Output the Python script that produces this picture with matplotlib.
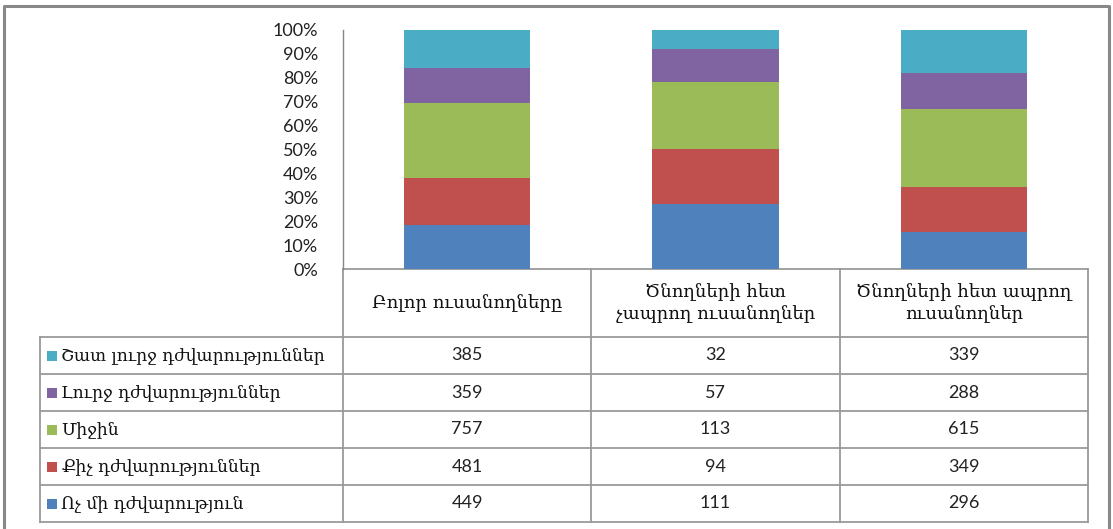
import numpy as np
import matplotlib
matplotlib.use("Agg")
import matplotlib.pyplot as plt
import matplotlib.transforms as mtransforms

# columns of the data table / bar categories
groups = ["Բոլոր ուսանողները",
          "Ծնողների հետ\nչապրող ուսանողներ",
          "Ծնողների հետ ապրող\nուսանողներ"]

# series, bottom of the stack first
series = ["Ոչ մի դժվարություն",
          "Քիչ դժվարություններ",
          "Միջին",
          "Լուրջ դժվարություններ",
          "Շատ լուրջ դժվարություններ"]
no_difficulty = [449, 111, 296]
few_difficulties = [481, 94, 349]
medium = [757, 113, 615]
serious = [359, 57, 288]
very_serious = [385, 32, 339]
colors = ["#4F81BD", "#C0504D", "#9BBB59", "#8064A2", "#4BACC6"]

yticks = [0, 10, 20, 30, 40, 50, 60, 70, 80, 90, 100]

counts = np.array([no_difficulty, few_difficulties, medium, serious, very_serious], dtype=float)
pct = counts / counts.sum(axis=0) * 100

W, H = 1113, 529
fig = plt.figure(figsize=(W / 100, H / 100), dpi=100)
fig.patch.set_facecolor("white")

# overlay in pixel coords for the frame and table grid
ov = fig.add_axes([0, 0, 1, 1])
ov.set_xlim(0, W)
ov.set_ylim(H, 0)
ov.axis("off")

# chart frame
ov.plot([4, 4, 1109, 1109], [540, 6, 6, 540], color="#888888", lw=2.2, solid_capstyle="butt")

# bar axes
x0, x1, y_top, y_zero = 343, 1088, 30, 269
ax = fig.add_axes([x0 / W, (H - y_zero) / H, (x1 - x0) / W, (y_zero - y_top) / H])
ax.set_xlim(-0.5, len(groups) - 0.5)
ax.set_ylim(0, 100)
ax.patch.set_alpha(0)

xs = np.arange(len(groups))
bottom = np.zeros(len(groups))
for vals, c in zip(pct, colors):
    ax.bar(xs, vals, bottom=bottom, width=0.51, color=c, edgecolor="none")
    bottom += vals

for s in ["top", "right", "bottom"]:
    ax.spines[s].set_visible(False)
ax.spines["left"].set_color("#868686")
ax.spines["left"].set_linewidth(1.0)
ax.set_xticks([])
ax.set_yticks(yticks)
ax.set_yticklabels([f"{t}%" for t in yticks], fontsize=13, family="Lato", color="#222222")
ax.tick_params(axis="y", length=0, pad=18)

# data table below the bars
tr = mtransforms.blended_transform_factory(ax.transData, ov.transData)
row_lines = [337, 374, 411, 448, 485, 522]
grid_c = "#9a9a9a"
arm = ["DejaVu Serif", "DejaVu Sans"]

# horizontal lines
ov.plot([x0, x1], [y_zero, y_zero], color=grid_c, lw=1.3)
for y in row_lines:
    ov.plot([40, x1], [y, y], color=grid_c, lw=1.3)
# vertical lines
ov.plot([40, 40], [row_lines[0], row_lines[-1]], color=grid_c, lw=1.3)
for b in np.arange(len(groups) + 1) - 0.5:
    ov.plot([b, b], [y_zero, row_lines[-1]], color=grid_c, lw=1.3, transform=tr)

# header cells
for i, g in enumerate(groups):
    ov.text(i, (y_zero + row_lines[0]) / 2, g, transform=tr, ha="center", va="center",
            fontsize=13, family=arm, color="#111111", linespacing=1.3)

# body rows, top row is the top of the stack
for r, k in enumerate(range(len(series) - 1, -1, -1)):
    yc = (row_lines[r] + row_lines[r + 1]) / 2
    ov.add_patch(plt.Rectangle((47, yc - 5), 10, 10, color=colors[k], lw=0))
    ov.text(61, yc, series[k], ha="left", va="center", fontsize=12.3, family=arm, color="#111111")
    for i in range(len(groups)):
        ov.text(i, yc, f"{int(counts[k, i])}", transform=tr, ha="center", va="center",
                fontsize=13, family="Lato", color="#222222")

fig.savefig("out.png", dpi=100)
